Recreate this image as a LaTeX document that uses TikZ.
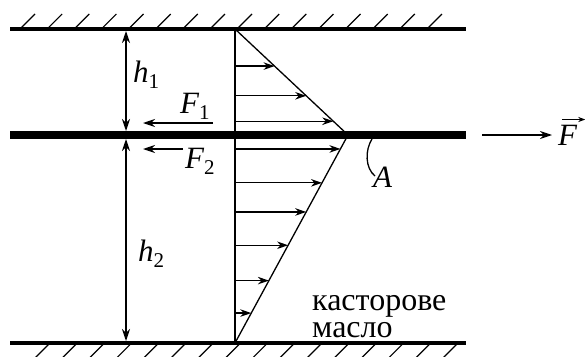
\documentclass[tikz,border=0pt]{standalone}
\usepackage{fontspec}
\setmainfont{Liberation Serif}
\newfontfamily\timesfam{Liberation Serif}
\usetikzlibrary{arrows.meta,calc}

\newcommand{\idx}[1]{\raisebox{-0.22em}{\upshape\fontsize{21}{21}\selectfont #1}}

\begin{document}
\begin{tikzpicture}[
        x=1pt,
        y=-1pt,
        font=\timesfam\fontsize{28}{30}\selectfont,
        wall/.style={line width=3.2pt},
        slab/.style={line width=7.5pt},
        hatch/.style={line width=1.2pt},
        profile/.style={line width=1.3pt},
        flow/.style={-{Stealth[length=11pt,width=7.5pt,inset=3.5pt]}, line width=1.3pt},
        dim/.style={{Stealth[length=12pt,width=8pt,inset=4pt]}-{Stealth[length=12pt,width=8pt,inset=4pt]}, line width=1.3pt},
        force/.style={-{Stealth[length=12pt,width=8pt,inset=4pt]}, line width=1.3pt},
        sym/.style={anchor=base west, inner sep=0pt, font=\timesfam\fontsize{31}{32}\selectfont\itshape}
    ]
        \useasboundingbox (0,0) rectangle (585,356);

        % walls and the moving plate
        \coordinate (wtl) at (10,29);
        \coordinate (wtr) at (466,29);
        \coordinate (pl) at (10,135);
        \coordinate (pr) at (466,135);
        \coordinate (wbl) at (10,343);
        \coordinate (wbr) at (466,343);
        \draw[wall] (wtl) -- (wtr);
        \draw[wall] (wbl) -- (wbr);
        \foreach \i in {0,...,15} {
            \draw[hatch] (20+27.13*\i,29) -- ++(15,-15);
            \draw[hatch] (50+27.2*\i,343) -- ++(-15,15);
        }

        % velocity profile
        \coordinate (top) at (235,29);
        \coordinate (apex) at (348,135);
        \coordinate (bot) at (235,343);
        \draw[profile] (top) -- (bot);
        \draw[profile] (top) -- (apex) -- (bot);
        \foreach \t in {0.35,0.63,0.87} {
            \path ($(top)!\t!(apex)$) coordinate (e);
            \draw[flow] (e -| top) -- (e);
        }
        \foreach \t in {0.067,0.23,0.37,0.53,0.70,0.856} {
            \path ($(apex)!\t!(bot)$) coordinate (e);
            \draw[flow] (e -| top) -- (e);
        }
        \draw[slab] (pl) -- (pr);

        % gaps
        \coordinate (d1a) at (126,31);
        \coordinate (d1b) at (126,131);
        \coordinate (d2a) at (126,139);
        \coordinate (d2b) at (126,341);
        \draw[dim] (d1a) -- (d1b);
        \draw[dim] (d2a) -- (d2b);
        \node[sym] (h1lab) at (133,82) {h\idx{1}};
        \node[sym] (h2lab) at (138,261) {h\idx{2}};

        % forces
        \coordinate (f1s) at (213,123);
        \coordinate (f1e) at (143,123);
        \coordinate (f2s) at (183,149);
        \coordinate (f2e) at (143,149);
        \coordinate (fs) at (482,135);
        \coordinate (fe) at (552,135);
        \draw[force] (f1s) -- (f1e);
        \draw[force] (f2s) -- (f2e);
        \draw[force] (fs) -- (fe);
        \node[sym] (F1lab) at (180,113) {F\idx{1}};
        \node[sym] (F2lab) at (185,168) {F\idx{2}};
        \node[sym] (Flab) at (558,145) {F};
        \draw[-{Stealth[length=7pt,width=5pt,inset=2pt]}, line width=1.2pt]
            ([xshift=4pt,yshift=5pt]Flab.north west) -- ([xshift=8pt,yshift=5pt]Flab.north east);

        % point A
        \node[sym] (Alab) at (373,187) {A};
        \coordinate (a0) at (372,139);
        \coordinate (a1) at (375,176);
        \draw[profile] (a0) .. controls (365,150) and (365,168) .. (a1);

        \node[anchor=base west, inner sep=0pt, align=left, font=\timesfam\fontsize{32}{27}\selectfont] (oil) at (312,337) {касторове\\масло};
    \end{tikzpicture}
\end{document}
